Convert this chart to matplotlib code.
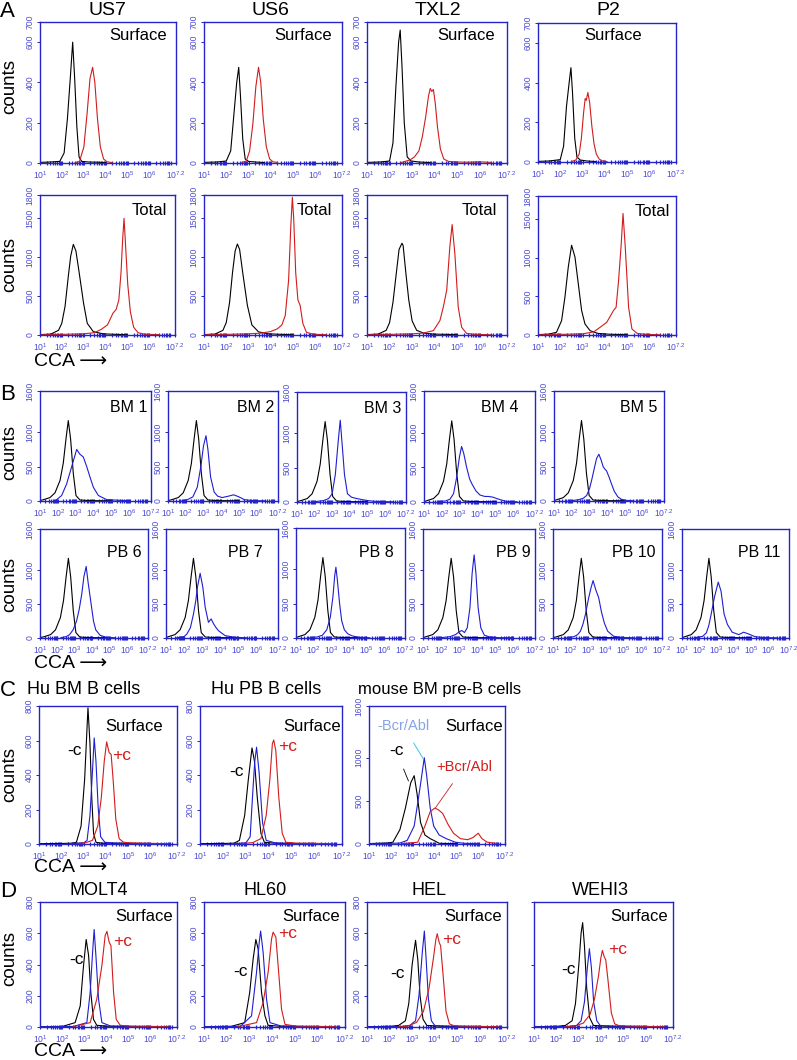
import matplotlib
matplotlib.use('Agg')
import matplotlib.pyplot as plt
from matplotlib.ticker import FixedLocator, LogLocator, NullFormatter
import numpy as np

plt.rcParams['font.family'] = ['Liberation Sans', 'DejaVu Sans']

# ---------------- data (log10 CCA, counts) ----------------
XT = [1, 2, 3, 4, 5, 6, 7.2]
XTL = [r'$\mathregular{10^{1}}$', r'$\mathregular{10^{2}}$', r'$\mathregular{10^{3}}$',
       r'$\mathregular{10^{4}}$', r'$\mathregular{10^{5}}$', r'$\mathregular{10^{6}}$',
       r'$\mathregular{10^{7.2}}$']

# Panel A, surface
us7_s = {"k": ([1.0, 1.5, 1.9, 2.1, 2.25, 2.38, 2.49, 2.58, 2.68, 2.78, 2.9, 3.2, 3.6, 4.0],
               [3, 5, 8, 50, 220, 420, 600, 420, 180, 30, 8, 5, 4, 2]),
         "r": ([2.6, 2.8, 3.0, 3.15, 3.28, 3.4, 3.5, 3.62, 3.75, 3.9, 4.05, 4.3],
               [2, 8, 80, 250, 420, 475, 400, 220, 80, 20, 6, 2])}
us6_s = {"k": ([1.0, 1.6, 2.0, 2.2, 2.35, 2.47, 2.56, 2.64, 2.74, 2.85, 3.0, 3.3, 3.7],
               [3, 5, 10, 60, 250, 400, 475, 330, 120, 20, 8, 5, 2]),
         "r": ([2.7, 2.9, 3.05, 3.2, 3.33, 3.45, 3.55, 3.66, 3.8, 3.95, 4.1, 4.3],
               [3, 10, 60, 200, 380, 475, 400, 220, 80, 20, 6, 3])}
txl2_s = {"k": ([1.0, 1.6, 2.0, 2.15, 2.28, 2.4, 2.47, 2.55, 2.65, 2.78, 2.95, 3.3, 3.8],
                [3, 5, 10, 100, 380, 600, 660, 480, 200, 30, 10, 5, 2]),
          "r": ([2.5, 2.9, 3.1, 3.3, 3.45, 3.6, 3.72, 3.8, 3.87, 3.94, 4.02, 4.12, 4.25, 4.4, 4.6, 5.0, 5.5, 6.0, 6.5],
                [2, 15, 30, 60, 130, 230, 330, 370, 355, 365, 300, 180, 70, 20, 8, 5, 4, 6, 3])}
p2_s = {"k": ([1.0, 1.5, 2.0, 2.15, 2.28, 2.4, 2.48, 2.55, 2.65, 2.75, 2.9, 3.2, 3.6],
              [3, 5, 12, 80, 280, 400, 475, 350, 120, 25, 10, 5, 2]),
        "r": ([2.5, 2.7, 2.85, 2.95, 3.05, 3.12, 3.17, 3.24, 3.32, 3.42, 3.52, 3.62, 3.75, 3.9, 4.1],
              [2, 10, 40, 120, 250, 320, 310, 350, 300, 180, 90, 40, 15, 5, 2])}

# Panel A, total
us7_t = {"k": ([1.0, 1.5, 1.85, 2.0, 2.15, 2.3, 2.41, 2.53, 2.65, 2.8, 3.0, 3.17, 3.45, 3.9, 4.5, 5.0],
               [5, 12, 60, 150, 367, 755, 1014, 1165, 1080, 800, 410, 150, 43, 15, 8, 3]),
         "r": ([1.0, 2.0, 3.0, 3.5, 3.8, 4.1, 4.35, 4.5, 4.62, 4.72, 4.8, 4.86, 4.93, 5.03, 5.15, 5.3, 5.5, 5.8, 6.5],
               [3, 8, 15, 30, 70, 130, 280, 330, 450, 800, 1250, 1500, 1150, 650, 300, 100, 30, 10, 4])}
us6_t = {"k": ([1.0, 1.5, 1.85, 2.0, 2.15, 2.28, 2.4, 2.5, 2.6, 2.75, 2.95, 3.15, 3.45, 3.9, 4.5, 5.0],
               [5, 12, 60, 160, 420, 800, 1080, 1170, 1100, 780, 380, 130, 40, 15, 8, 3]),
         "r": ([1.0, 2.0, 3.0, 3.6, 4.0, 4.3, 4.5, 4.65, 4.8, 4.9, 4.97, 5.03, 5.12, 5.22, 5.32, 5.44, 5.6, 5.9, 6.5],
               [3, 8, 15, 25, 45, 80, 130, 250, 700, 1400, 1770, 1500, 800, 450, 380, 150, 35, 10, 4])}
txl2_t = {"k": ([1.0, 1.5, 1.85, 2.0, 2.15, 2.3, 2.42, 2.5, 2.55, 2.6, 2.72, 2.85, 3.0, 3.2, 3.5, 3.9, 4.5, 5.0],
                [5, 12, 60, 160, 420, 800, 1100, 1150, 1180, 1150, 800, 450, 180, 60, 25, 12, 8, 3]),
          "r": ([1.0, 2.0, 3.0, 3.5, 3.94, 4.23, 4.38, 4.53, 4.67, 4.77, 4.89, 5.04, 5.19, 5.41, 5.8, 6.5],
                [3, 8, 15, 25, 56, 186, 360, 577, 1140, 1420, 1050, 360, 100, 20, 8, 3])}
p2_t = {"k": ([1.0, 1.5, 1.83, 2.06, 2.21, 2.36, 2.51, 2.66, 2.81, 2.96, 3.11, 3.34, 3.7, 4.2, 5.0],
              [5, 12, 35, 186, 490, 880, 1162, 1010, 664, 316, 143, 56, 20, 10, 3]),
        "r": ([1.0, 2.0, 3.0, 3.5, 3.79, 4.09, 4.39, 4.51, 4.62, 4.73, 4.82, 4.92, 5.07, 5.22, 5.45, 5.8, 6.5],
              [3, 8, 15, 40, 100, 165, 316, 360, 706, 1140, 1574, 1140, 360, 78, 22, 8, 3])}

# Panel B, control curves (black) and patient curves (blue)
ctrl_y = [5, 20, 50, 120, 300, 550, 900, 1170, 900, 400, 80, 15, 8, 5, 3]
bm1 = {"k": ([1.0, 1.2, 1.56, 1.84, 2.12, 2.3, 2.45, 2.58, 2.71, 2.86, 3.01, 3.23, 3.6, 4.2, 5.0], ctrl_y),
       "b": ([1.93, 2.21, 2.49, 2.77, 3.05, 3.23, 3.42, 3.61, 3.79, 3.98, 4.26, 4.72, 5.84],
             [20, 80, 250, 500, 750, 680, 640, 500, 350, 200, 80, 20, 5])}
bm2 = {"k": ([1.0, 1.22, 1.58, 1.86, 2.14, 2.32, 2.47, 2.6, 2.73, 2.88, 3.03, 3.25, 3.6, 4.2, 5.0], ctrl_y),
       "b": ([1.8, 2.1, 2.4, 2.65, 2.85, 3.0, 3.14, 3.25, 3.4, 3.6, 3.8, 4.05, 4.4, 4.7, 5.0, 5.3, 5.8, 6.5],
             [5, 20, 60, 200, 500, 800, 950, 750, 350, 130, 70, 50, 70, 90, 60, 20, 5, 3])}
bm3 = {"k": ([1.0, 1.22, 1.58, 1.86, 2.14, 2.32, 2.47, 2.6, 2.73, 2.88, 3.03, 3.25, 3.6, 4.2, 5.0], ctrl_y),
       "b": ([2.0, 2.5, 2.8, 3.0, 3.18, 3.35, 3.46, 3.58, 3.7, 3.87, 4.1, 4.4, 4.8, 5.2, 5.8, 6.5],
             [5, 20, 50, 120, 400, 900, 1190, 800, 400, 120, 70, 50, 30, 15, 5, 3])}
bm4 = {"k": ([1.0, 1.17, 1.53, 1.81, 2.09, 2.27, 2.42, 2.55, 2.68, 2.83, 2.98, 3.2, 3.6, 4.2, 5.0], ctrl_y),
       "b": ([1.8, 2.2, 2.45, 2.65, 2.82, 2.98, 3.1, 3.22, 3.38, 3.55, 3.7, 3.9, 4.13, 4.4, 4.6, 4.85, 5.06, 5.3, 5.6, 6.2],
             [5, 15, 40, 120, 350, 650, 800, 700, 500, 330, 250, 160, 100, 80, 80, 70, 50, 30, 10, 3])}
bm5 = {"k": ([1.0, 1.17, 1.53, 1.81, 2.09, 2.27, 2.42, 2.55, 2.68, 2.83, 2.98, 3.2, 3.6, 4.2, 5.0], ctrl_y),
       "b": ([2.0, 2.4, 2.65, 2.84, 3.0, 3.12, 3.25, 3.4, 3.53, 3.65, 3.77, 3.88, 3.96, 4.1, 4.24, 4.4, 4.6, 4.8, 5.0, 5.5],
             [5, 20, 40, 80, 180, 300, 450, 620, 680, 600, 500, 460, 440, 350, 250, 140, 60, 25, 10, 3])}
pb6 = {"k": ([1.0, 1.25, 1.61, 1.89, 2.17, 2.35, 2.5, 2.63, 2.76, 2.91, 3.06, 3.28, 3.6, 4.2, 5.0], ctrl_y),
       "b": ([2.2, 2.5, 2.7, 2.9, 3.1, 3.25, 3.4, 3.52, 3.65, 3.77, 3.88, 4.0, 4.07, 4.2, 4.45, 4.8, 5.3],
             [5, 20, 50, 120, 250, 420, 650, 900, 1050, 800, 600, 380, 250, 120, 40, 10, 3])}
pb7 = {"k": ([1.0, 1.14, 1.5, 1.78, 2.06, 2.24, 2.39, 2.52, 2.65, 2.8, 2.95, 3.17, 3.6, 4.2, 5.0], ctrl_y),
       "b": ([1.6, 2.0, 2.16, 2.35, 2.52, 2.65, 2.74, 2.89, 3.04, 3.17, 3.35, 3.5, 3.62, 3.75, 3.9, 4.27, 4.8, 5.5],
             [5, 20, 60, 150, 350, 550, 745, 950, 745, 450, 230, 280, 215, 160, 108, 35, 10, 3])}
pb8 = {"k": ([1.0, 1.15, 1.51, 1.79, 2.07, 2.25, 2.4, 2.53, 2.66, 2.81, 2.96, 3.18, 3.6, 4.2, 5.0], ctrl_y),
       "b": ([1.8, 2.2, 2.5, 2.75, 2.95, 3.1, 3.2, 3.27, 3.35, 3.48, 3.6, 3.75, 3.95, 4.2, 4.6, 5.2],
             [5, 15, 40, 120, 300, 600, 900, 1030, 850, 500, 250, 120, 60, 30, 10, 3])}
pb9 = {"k": ([1.0, 1.18, 1.54, 1.82, 2.1, 2.28, 2.43, 2.56, 2.69, 2.84, 2.99, 3.21, 3.6, 4.2, 5.0], ctrl_y),
       "b": ([2.0, 2.5, 2.8, 3.0, 3.15, 3.3, 3.45, 3.6, 3.72, 3.83, 3.93, 4.05, 4.2, 4.4, 4.7, 5.2, 6.0],
             [5, 20, 50, 90, 110, 80, 150, 450, 950, 1220, 950, 450, 150, 40, 15, 5, 3])}
pb10 = {"k": ([1.0, 1.23, 1.59, 1.87, 2.15, 2.33, 2.48, 2.61, 2.74, 2.89, 3.04, 3.26, 3.6, 4.2, 5.0], ctrl_y),
        "b": ([1.8, 2.2, 2.4, 2.56, 2.7, 2.84, 3.03, 3.16, 3.28, 3.43, 3.6, 3.75, 3.92, 4.11, 4.45, 4.9, 5.6],
              [5, 20, 50, 100, 200, 340, 590, 735, 843, 710, 590, 390, 220, 100, 25, 8, 3])}
pb11 = {"k": ([1.0, 1.18, 1.54, 1.82, 2.1, 2.28, 2.43, 2.56, 2.69, 2.84, 2.99, 3.21, 3.6, 4.2, 5.0], ctrl_y),
        "b": ([1.8, 2.2, 2.41, 2.55, 2.69, 2.88, 3.1, 3.26, 3.44, 3.63, 3.91, 4.29, 4.57, 4.85, 5.23, 5.79, 6.5],
              [5, 25, 75, 180, 350, 600, 820, 690, 350, 200, 85, 50, 85, 60, 20, 5, 3])}

# Panel C
hubm = {"k": ([1.0, 2.0, 2.5, 2.68, 2.89, 3.05, 3.2, 3.29, 3.37, 3.45, 3.56, 3.8, 4.5, 5.5, 6.5],
              [2, 3, 5, 10, 104, 374, 790, 582, 270, 62, 10, 5, 4, 3, 2]),
        "b": ([2.5, 3.0, 3.16, 3.29, 3.4, 3.48, 3.56, 3.66, 3.77, 3.96, 4.5, 5.5, 6.5],
              [3, 6, 21, 166, 416, 615, 478, 208, 42, 10, 5, 3, 2]),
        "r": ([2.8, 3.1, 3.4, 3.64, 3.8, 3.93, 4.04, 4.15, 4.24, 4.33, 4.45, 4.6, 4.8, 5.2, 6.0, 6.8],
              [3, 8, 21, 104, 270, 478, 592, 530, 520, 374, 145, 31, 10, 6, 4, 2])}
hupb = {"k": ([1.0, 2.0, 2.5, 2.72, 2.95, 3.11, 3.27, 3.38, 3.5, 3.66, 3.81, 4.2, 5.0, 6.0],
              [2, 3, 5, 21, 166, 374, 557, 478, 270, 62, 10, 5, 3, 2]),
        "b": ([2.5, 3.0, 3.19, 3.31, 3.39, 3.47, 3.58, 3.73, 3.89, 4.3, 5.0, 6.0],
              [2, 6, 42, 312, 478, 561, 416, 125, 21, 6, 3, 2]),
        "r": ([2.8, 3.3, 3.66, 3.89, 4.05, 4.16, 4.22, 4.31, 4.44, 4.59, 4.75, 5.2, 6.0, 6.8],
              [2, 8, 31, 166, 374, 582, 603, 541, 270, 62, 10, 5, 4, 2])}
mouse = {"k": ([1.0, 1.8, 2.09, 2.41, 2.66, 2.9, 3.06, 3.19, 3.35, 3.55, 3.79, 3.95, 4.2, 5.0],
               [5, 10, 21, 167, 417, 708, 792, 583, 250, 104, 62, 42, 8, 3]),
         "b": ([1.0, 2.4, 2.74, 3.06, 3.31, 3.52, 3.63, 3.79, 3.95, 4.2, 4.52, 4.93, 5.33, 6.0],
               [5, 10, 42, 208, 625, 1000, 792, 417, 208, 104, 62, 21, 8, 3]),
         "r": ([2.5, 3.22, 3.55, 3.79, 4.0, 4.17, 4.36, 4.6, 4.85, 5.17, 5.5, 5.74, 5.98, 6.15, 6.39, 6.8],
               [3, 21, 208, 375, 417, 396, 354, 229, 125, 62, 50, 75, 125, 62, 21, 8])}

# Panel D
molt4 = {"k": ([1.0, 2.0, 2.59, 2.82, 2.97, 3.09, 3.2, 3.3, 3.42, 3.57, 4.0, 5.0, 6.5],
               [2, 3, 28, 135, 393, 560, 457, 221, 49, 11, 5, 3, 2]),
         "b": ([1.0, 2.5, 3.12, 3.27, 3.38, 3.45, 3.54, 3.65, 3.8, 4.2, 5.5, 6.8],
               [2, 3, 28, 221, 478, 624, 435, 178, 28, 6, 3, 2]),
         "r": ([2.5, 3.27, 3.57, 3.8, 3.95, 4.03, 4.13, 4.21, 4.33, 4.45, 4.63, 5.0, 6.0, 6.8],
               [2, 28, 178, 393, 586, 612, 543, 521, 221, 49, 11, 6, 4, 2])}
hl60 = {"k": ([1.0, 2.2, 2.79, 3.01, 3.16, 3.28, 3.38, 3.53, 3.68, 3.82, 4.3, 5.5],
              [2, 4, 28, 221, 435, 560, 500, 221, 71, 11, 5, 2]),
        "b": ([1.0, 2.6, 3.09, 3.31, 3.43, 3.49, 3.6, 3.75, 3.9, 4.4, 5.5, 6.8],
              [2, 4, 71, 350, 543, 614, 478, 178, 28, 6, 3, 2]),
        "r": ([2.5, 3.31, 3.6, 3.82, 3.97, 4.04, 4.16, 4.26, 4.41, 4.56, 5.0, 6.0, 6.8],
              [2, 28, 157, 350, 564, 607, 575, 393, 114, 17, 6, 4, 2])}
hel = {"k": ([1.0, 2.0, 2.4, 2.7, 2.85, 3.0, 3.15, 3.25, 3.35, 3.48, 3.65, 4.2, 5.5],
             [2, 4, 10, 40, 150, 400, 555, 430, 200, 50, 10, 5, 2]),
       "b": ([1.0, 2.5, 2.9, 3.15, 3.3, 3.45, 3.54, 3.62, 3.72, 3.85, 4.0, 4.6, 6.8],
             [2, 3, 10, 40, 200, 480, 614, 430, 180, 40, 10, 5, 2]),
       "r": ([2.4, 2.8, 3.2, 3.5, 3.75, 3.95, 4.05, 4.11, 4.2, 4.26, 4.36, 4.5, 4.65, 4.85, 5.5, 6.8],
             [2, 5, 30, 100, 250, 450, 560, 597, 540, 520, 350, 100, 20, 8, 5, 2])}
wehi3 = {"k": ([1.0, 2.0, 2.4, 2.7, 2.85, 3.0, 3.1, 3.17, 3.25, 3.35, 3.48, 3.65, 4.2, 5.5],
               [2, 4, 10, 40, 150, 400, 600, 668, 520, 250, 60, 10, 5, 2]),
         "b": ([1.0, 2.5, 2.9, 3.1, 3.25, 3.38, 3.47, 3.56, 3.66, 3.8, 3.95, 4.6, 6.8],
               [2, 3, 10, 40, 160, 380, 501, 380, 160, 40, 10, 5, 2]),
         "r": ([2.4, 2.8, 3.2, 3.5, 3.7, 3.88, 3.98, 4.05, 4.13, 4.2, 4.3, 4.45, 4.6, 4.8, 5.5, 6.8],
               [2, 5, 25, 80, 180, 330, 440, 490, 450, 430, 300, 90, 20, 8, 5, 2])}

# ---------------- styling ----------------
W, H = 797, 1060
fig = plt.figure(figsize=(W / 100, H / 100), dpi=100)
SPINE = '#2424c8'
TICKC = '#4b4bd4'
COLS = {"k": 'black', "b": '#1e1ed2', "r": '#d21c1c'}
ARROW = "CCA \u27f6"


def fx(x):
    return x / W


def fy(y):
    return 1 - y / H


def make_ax(box, ymax, yticks, ylabels=None):
    l, t, r, b = box
    ax = fig.add_axes([l / W, 1 - b / H, (r - l) / W, (b - t) / H])
    ax.set_xscale('log')
    ax.set_xlim(10, 10 ** 7.2)
    ax.set_ylim(0, ymax)
    for s in ax.spines.values():
        s.set_color(SPINE)
        s.set_linewidth(1.0)
    ax.xaxis.set_major_locator(FixedLocator([10 ** v for v in XT]))
    ax.set_xticklabels(XTL)
    ax.xaxis.set_minor_locator(LogLocator(base=10, subs=np.arange(2, 10), numticks=60))
    ax.xaxis.set_minor_formatter(NullFormatter())
    ax.tick_params(axis='x', which='major', colors=SPINE, labelcolor=TICKC,
                   labelsize=6.2, length=3.5, width=0.8, pad=2.5, direction='inout')
    ax.tick_params(axis='x', which='minor', colors=SPINE, length=3.5, width=0.9,
                   direction='inout')
    ax.set_yticks(yticks)
    if ylabels is None:
        ax.set_yticklabels([str(v) for v in yticks])
    else:
        ax.set_yticklabels(ylabels)
    ax.tick_params(axis='y', colors=SPINE, labelcolor=TICKC, labelsize=6.2,
                   length=2.5, width=0.7, pad=1.5)
    for lab in ax.get_yticklabels():
        lab.set_rotation(90)
        lab.set_va('center')
    return ax


def draw(ax, data, order=("k", "b", "r")):
    for key in order:
        if key in data:
            xs, ys = data[key]
            ax.plot(10 ** np.asarray(xs, float), ys, color=COLS[key], lw=0.8)


def corner(ax, txt, xr, yb, size=12):
    ax.text(xr, yb, txt, transform=ax.transAxes, ha='right', va='baseline',
            fontsize=size, color='black')


def lab(ax, txt, x, y, color='black', size=12.5):
    ax.text(x, y, txt, transform=ax.transAxes, ha='center', va='center',
            fontsize=size, color=color)


def ftext(x, y, s, **kw):
    fig.text(fx(x), fy(y), s, **kw)


# ---------------- Panel A ----------------
A_top = [(40, 22, 176, 163), (204, 22, 342, 163), (367, 22, 507, 163), (538, 23, 676, 162)]
A_bot = [(40, 195, 175, 335), (204, 195, 342, 335), (367, 195, 507, 335), (538, 196, 676, 335)]
A_titles = ["US7", "US6", "TXL2", "P2"]
A_tcx = [107, 270, 438, 608]
A_sdata = [us7_s, us6_s, txl2_s, p2_s]
A_tdata = [us7_t, us6_t, txl2_t, p2_t]
A_sx = [0.935, 0.93, 0.915, 0.755]
A_tx = [0.94, 0.93, 0.93, 0.96]
for i in range(4):
    ax = make_ax(A_top[i], 700, [0, 200, 400, 600, 700])
    draw(ax, A_sdata[i])
    corner(ax, "Surface", A_sx[i], 0.875)
    ftext(A_tcx[i], 15, A_titles[i], ha='center', va='baseline', fontsize=14)
    ax2 = make_ax(A_bot[i], 1800, [0, 500, 1000, 1500, 1800])
    draw(ax2, A_tdata[i])
    corner(ax2, "Total", A_tx[i], 0.855)
ftext(0, 17, "A", ha='left', va='baseline', fontsize=16)
ftext(10, 87, "counts", ha='center', va='center', rotation=90, fontsize=13.5)
ftext(10, 265, "counts", ha='center', va='center', rotation=90, fontsize=13.5)
ftext(34, 362, ARROW, ha='left', va='center', fontsize=14)

# ---------------- Panel B ----------------
B_top = [(40, 391, 151, 501), (168, 391, 278, 501), (297, 392, 406, 502),
         (424, 391, 535, 502), (554, 391, 664, 501)]
B_bot = [(40, 529, 148, 638), (166, 529, 278, 638), (296, 528, 405, 638),
         (423, 529, 535, 638), (553, 529, 662, 638), (682, 529, 789, 638)]
B_tdata = [bm1, bm2, bm3, bm4, bm5]
B_bdata = [pb6, pb7, pb8, pb9, pb10, pb11]
B_tnames = ["BM 1", "BM 2", "BM 3", "BM 4", "BM 5"]
B_bnames = ["PB 6", "PB 7", "PB 8", "PB 9", "PB 10", "PB 11"]
B_tx = [0.97, 0.97, 0.96, 0.85, 0.94]
B_bx = [0.94, 0.866, 0.9, 0.96, 0.94, 0.92]
for i in range(5):
    ax = make_ax(B_top[i], 1600, [0, 500, 1000, 1600])
    draw(ax, B_tdata[i])
    corner(ax, B_tnames[i], B_tx[i], 0.81, size=11.5)
for i in range(6):
    ax = make_ax(B_bot[i], 1600, [0, 500, 1000, 1600])
    draw(ax, B_bdata[i])
    corner(ax, B_bnames[i], B_bx[i], 0.74, size=11.5)
ftext(0, 400, "B", ha='left', va='baseline', fontsize=16)
ftext(10, 452, "counts", ha='center', va='center', rotation=90, fontsize=13.5)
ftext(10, 585, "counts", ha='center', va='center', rotation=90, fontsize=13.5)
ftext(34, 663, ARROW, ha='left', va='center', fontsize=14)

# ---------------- Panel C ----------------
C_box = [(39, 706, 177, 844), (200, 706, 342, 844), (369, 706, 505, 844)]
C_titles = ["Hu BM B cells", "Hu PB B cells", "mouse BM pre-B cells"]
C_tcx = [84, 266, 440]
axc1 = make_ax(C_box[0], 800, [0, 200, 400, 600, 800])
draw(axc1, hubm)
corner(axc1, "Surface", 0.9, 0.82)
lab(axc1, "-c", 0.256, 0.674)
lab(axc1, "+c", 0.6, 0.638, color=COLS["r"])
axc2 = make_ax(C_box[1], 800, [0, 200, 400, 600, 800])
draw(axc2, hupb)
corner(axc2, "Surface", 0.99, 0.82)
lab(axc2, "-c", 0.254, 0.522)
lab(axc2, "+c", 0.616, 0.703, color=COLS["r"])
axc3 = make_ax(C_box[2], 1600, [0, 500, 1000, 1600])
draw(axc3, mouse)
corner(axc3, "Surface", 0.985, 0.82)
axc3.annotate("-Bcr/Abl", xy=(10 ** 3.47, 990), xytext=(0.06, 0.855),
              textcoords='axes fraction', ha='left', va='center', fontsize=10.5,
              color='#86a4e6', arrowprops=dict(arrowstyle='-', color='#3cc4e6', lw=0.7,
                                               shrinkA=6, shrinkB=0))
axc3.annotate("-c", xy=(10 ** 2.8, 730), xytext=(0.2, 0.674),
              textcoords='axes fraction', ha='center', va='center', fontsize=12.5,
              color='black', arrowprops=dict(arrowstyle='-', color='black', lw=0.6,
                                             shrinkA=6, shrinkB=0))
axc3.annotate("+Bcr/Abl", xy=(10 ** 4.03, 420), xytext=(0.70, 0.558),
              textcoords='axes fraction', ha='center', va='center', fontsize=10.5,
              color=COLS["r"], arrowprops=dict(arrowstyle='-', color=COLS["r"], lw=0.6,
                                               shrinkA=6, shrinkB=0))
C_tsize = [13, 13, 12]
for i in range(3):
    ftext(C_tcx[i], 694, C_titles[i], ha='center', va='baseline', fontsize=C_tsize[i])
ftext(0, 696, "C", ha='left', va='baseline', fontsize=16)
ftext(10, 775, "counts", ha='center', va='center', rotation=90, fontsize=13.5)
ftext(34, 868, ARROW, ha='left', va='center', fontsize=14)

# ---------------- Panel D ----------------
D_box = [(40, 902, 177, 1027), (204, 902, 345, 1027), (367, 902, 507, 1027), (534, 902, 673, 1027)]
D_titles = ["MOLT4", "HL60", "HEL", "WEHI3"]
D_tcx = [99, 265, 429, 600]
D_data = [molt4, hl60, hel, wehi3]
D_minus = [(0.27, 0.544), (0.259, 0.448), (0.22, 0.432), (0.245, 0.456)]
D_plus = [(0.606, 0.68), (0.592, 0.744), (0.607, 0.704), (0.604, 0.616)]
D_sx = [0.97, 0.965, 0.965, 0.964]
for i in range(4):
    if i < 3:
        ax = make_ax(D_box[i], 800, [0, 200, 400, 600, 800])
    else:
        ax = make_ax(D_box[i], 800, [0, 400, 800], ylabels=["", "", ""])
    draw(ax, D_data[i])
    corner(ax, "Surface", D_sx[i], 0.85)
    lab(ax, "-c", *D_minus[i])
    lab(ax, "+c", *D_plus[i], color=COLS["r"])
    ftext(D_tcx[i], 895, D_titles[i], ha='center', va='baseline', fontsize=13)
ftext(0, 897, "D", ha='left', va='baseline', fontsize=16)
ftext(10, 958, "counts", ha='center', va='center', rotation=90, fontsize=13.5)
ftext(34, 1052, ARROW, ha='left', va='center', fontsize=14)

fig.savefig("out.png", dpi=100)
